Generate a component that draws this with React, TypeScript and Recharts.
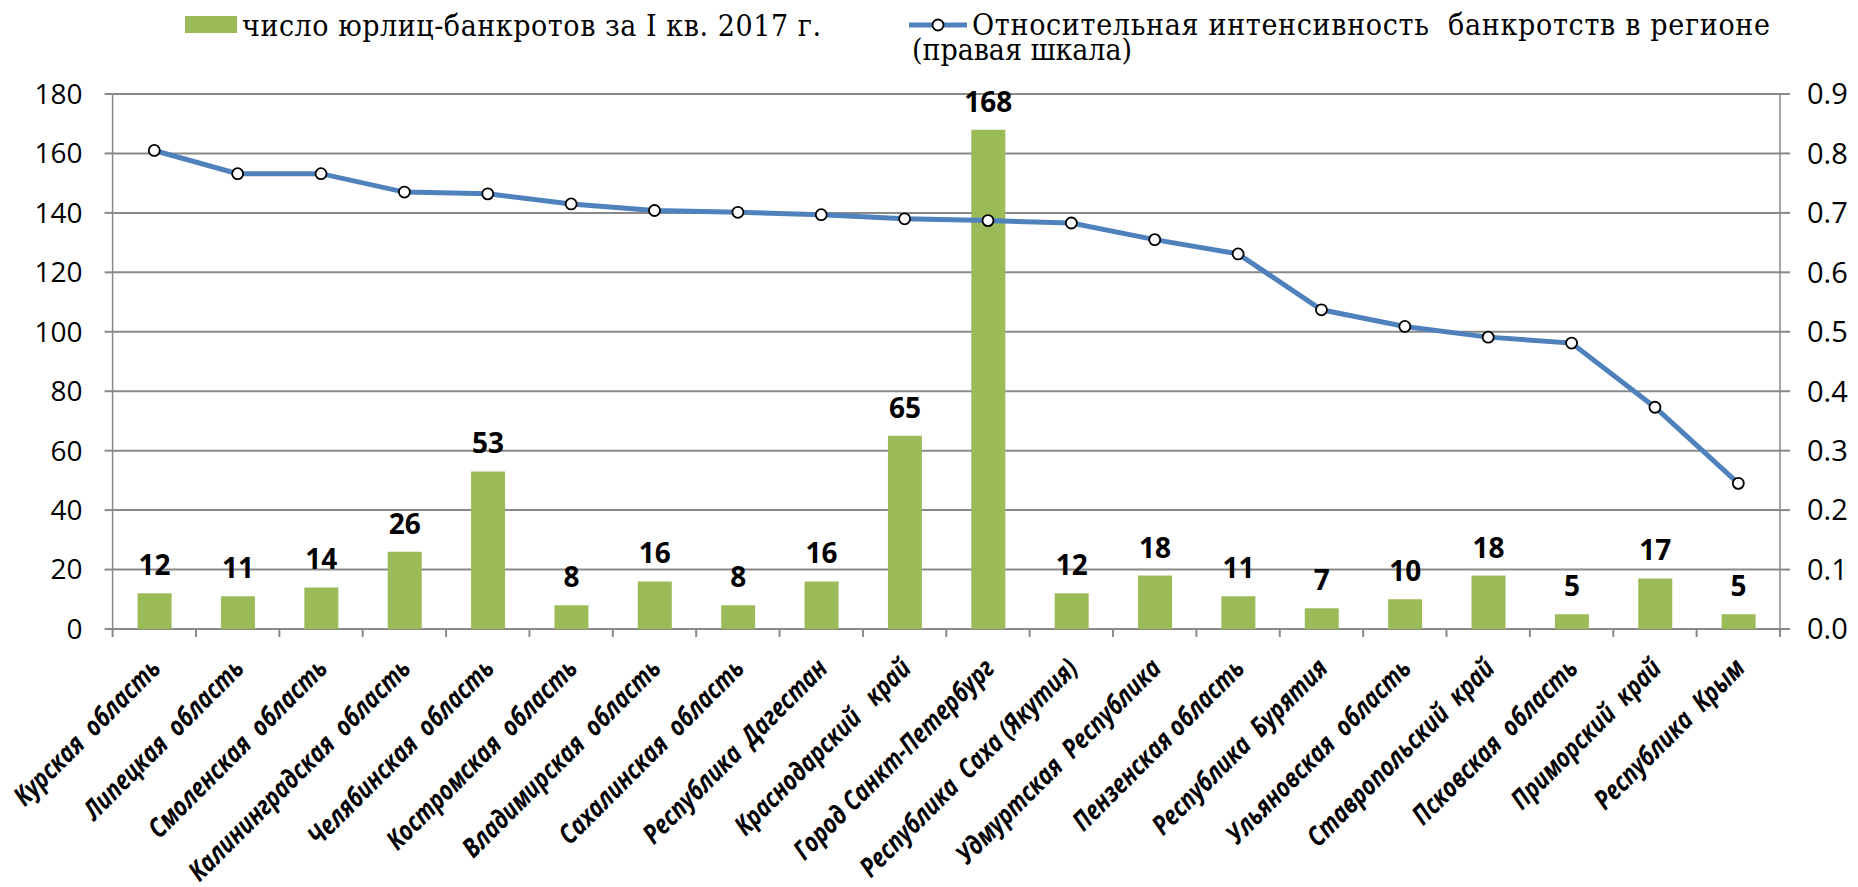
import React from 'react'
import {
  Bar,
  CartesianGrid,
  ComposedChart,
  LabelList,
  Line,
  XAxis,
  YAxis,
} from 'recharts'

// ─── Data ─────────────────────────────────────────────────────────────────────

const regions = [
  'Курская  область',
  'Липецкая  область',
  'Смоленская  область',
  'Калининградская  область',
  'Челябинская  область',
  'Костромская  область',
  'Владимирская  область',
  'Сахалинская  область',
  'Республика  Дагестан',
  'Краснодарский   край',
  'Город Санкт-Петербург',
  'Республика  Саха (Якутия)',
  'Удмуртская  Республика',
  'Пензенская область',
  'Республика  Бурятия',
  'Ульяновская  область',
  'Ставропольский  край',
  'Псковская  область',
  'Приморский  край',
  'Республика  Крым',
]

const bankruptCounts = [12, 11, 14, 26, 53, 8, 16, 8, 16, 65, 168, 12, 18, 11, 7, 10, 18, 5, 17, 5]

const intensity = [
  0.805, 0.766, 0.766, 0.735, 0.732, 0.715, 0.704, 0.701, 0.697, 0.69, 0.687, 0.683, 0.655,
  0.631, 0.537, 0.509, 0.491, 0.481, 0.373, 0.245,
]

const leftTicks = [0, 20, 40, 60, 80, 100, 120, 140, 160, 180]
const rightTicks = [0, 0.1, 0.2, 0.3, 0.4, 0.5, 0.6, 0.7, 0.8, 0.9]

const barLegend = 'число юрлиц-банкротов за I кв. 2017 г.'
const lineLegend = ['Относительная интенсивность  банкротств в регионе', '(правая шкала)']

// ─── Styles ───────────────────────────────────────────────────────────────────

const GREEN = '#9BBB59'
const BLUE = '#4F81BD'
const GRID = '#898989'
const SANS = '"Open Sans", "Noto Sans", sans-serif'
const SERIF = '"DejaVu Serif Condensed", "DejaVu Serif", serif'

const chartData = regions.map((region, i) => ({
  region,
  count: bankruptCounts[i],
  intensity: intensity[i],
}))

// Libellé incliné + petits traits aux bordures des catégories (façon Excel)
function RegionTick(props: any): React.JSX.Element {
  const { x, y, payload, index, visibleTicksCount, width } = props
  const half = payload?.offset || width / visibleTicksCount / 2
  const isLast = index === visibleTicksCount - 1
  return (
    <g>
      <line x1={x - half} y1={y} x2={x - half} y2={y + 8} stroke={GRID} strokeWidth={2} />
      {isLast && (
        <line x1={x + half} y1={y} x2={x + half} y2={y + 8} stroke={GRID} strokeWidth={2} />
      )}
      <g transform={`translate(${x + 8},${y + 41}) rotate(-45) scale(0.82,1)`}>
        <text
          textAnchor="end"
          fontSize={27}
          fontWeight={700}
          fontStyle="italic"
          fontFamily={SANS}
          fill="#000"
          style={{ whiteSpace: 'pre' }}
        >
          {payload.value}
        </text>
      </g>
    </g>
  )
}

function LegendOverlay(): React.JSX.Element {
  return (
    <svg
      width={1858}
      height={90}
      style={{ position: 'absolute', left: 0, top: 0, pointerEvents: 'none' }}
    >
      <rect x={185} y={16} width={52} height={17} fill={GREEN} />
      <text
        x={242}
        y={36}
        fontFamily={SERIF}
        fontSize={30}
        fill="#000"
        textLength={579}
        lengthAdjust="spacing"
      >
        {barLegend}
      </text>
      <line x1={909} y1={25} x2={967} y2={25} stroke={BLUE} strokeWidth={5} />
      <circle cx={938} cy={25} r={5.5} fill="#fff" stroke="#000" strokeWidth={1.8} />
      <text
        x={972}
        y={35}
        fontFamily={SERIF}
        fontSize={30}
        fill="#000"
        textLength={798}
        lengthAdjust="spacing"
        style={{ whiteSpace: 'pre' }}
      >
        {lineLegend[0]}
      </text>
      <text
        x={912}
        y={60}
        fontFamily={SERIF}
        fontSize={30}
        fill="#000"
        textLength={220}
        lengthAdjust="spacing"
      >
        {lineLegend[1]}
      </text>
    </svg>
  )
}

export default function App(): React.JSX.Element {
  return (
    <div
      style={{
        position: 'absolute',
        left: 0,
        top: 0,
        width: 1858,
        height: 887,
        background: '#fff',
      }}
    >
      <ComposedChart
        width={1858}
        height={887}
        data={chartData}
        margin={{ top: 94, right: 18, bottom: 58, left: 52.6 }}
      >
        <CartesianGrid yAxisId="left" vertical={false} stroke={GRID} strokeWidth={2} />

        <XAxis
          dataKey="region"
          interval={0}
          height={200}
          axisLine={false}
          tickLine={false}
          tickSize={0}
          tickMargin={0}
          tick={<RegionTick />}
        />

        <YAxis
          yAxisId="left"
          domain={[0, 180]}
          ticks={leftTicks}
          width={60}
          tickSize={8}
          tickMargin={22}
          axisLine={{ stroke: GRID, strokeWidth: 1.5 }}
          tickLine={{ stroke: GRID, strokeWidth: 2 }}
          tick={{ fill: '#000', fontSize: 28, fontFamily: SANS }}
        />
        <YAxis
          yAxisId="right"
          orientation="right"
          domain={[0, 0.9]}
          ticks={rightTicks}
          width={60}
          tickSize={10}
          tickMargin={17}
          tickFormatter={(v: number) => v.toFixed(1)}
          axisLine={{ stroke: GRID, strokeWidth: 1.5 }}
          tickLine={{ stroke: GRID, strokeWidth: 2 }}
          tick={{ fill: '#000', fontSize: 29, fontFamily: SANS }}
        />

        <Bar yAxisId="left" dataKey="count" fill={GREEN} barSize={34} isAnimationActive={false}>
          <LabelList
            dataKey="count"
            position="top"
            offset={18}
            fill="#000"
            fontSize={28}
            fontWeight={700}
            fontFamily={SANS}
          />
        </Bar>
        <Line
          yAxisId="right"
          dataKey="intensity"
          type="linear"
          stroke={BLUE}
          strokeWidth={5}
          dot={{ r: 5.5, fill: '#fff', stroke: '#000', strokeWidth: 1.8 }}
          activeDot={false}
          isAnimationActive={false}
        />
      </ComposedChart>
      <LegendOverlay />
    </div>
  )
}
